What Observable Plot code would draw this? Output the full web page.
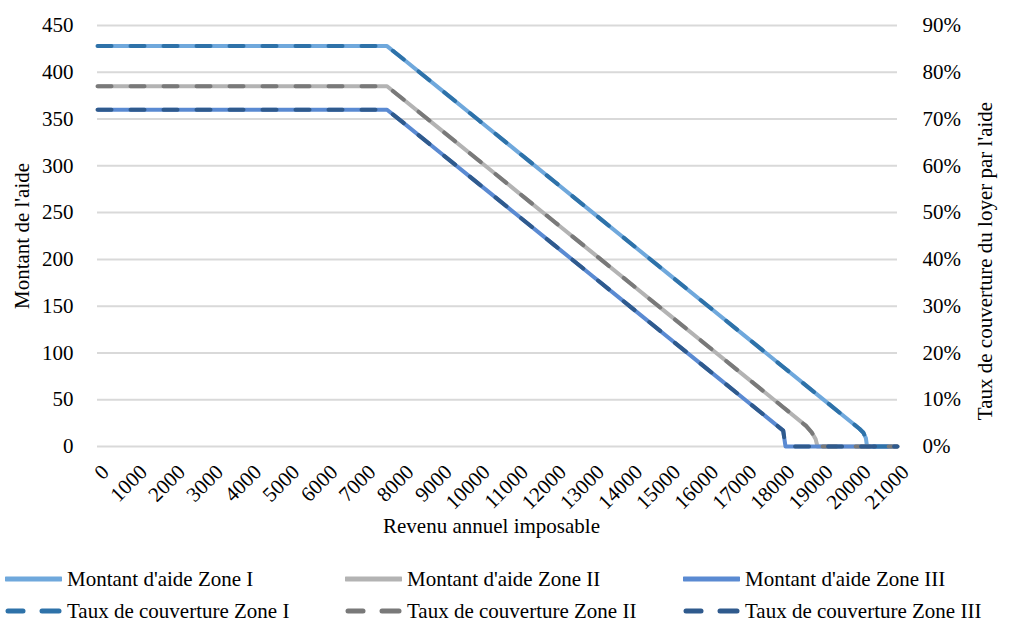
<!DOCTYPE html>
<html><head><meta charset="utf-8">
<script src="https://cdn.jsdelivr.net/npm/d3@7"></script>
<script src="https://cdn.jsdelivr.net/npm/@observablehq/plot@0.6"></script>
<style>
body{margin:0;background:#fff;font-family:"Liberation Serif",serif;}
#wrap{position:relative;width:1011px;height:621px;overflow:hidden}
.leg{position:absolute;display:flex;align-items:center;font-size:21px;color:#000;white-space:nowrap;height:28px}
.leg svg{margin-right:5px}
</style></head><body><div id="wrap"></div>
<script>
// Revenu annuel imposable (x) par zone
const revenusI   = [0,1000,2000,3000,4000,5000,6000,7000,7600,8000,9000,10000,11000,12000,13000,14000,15000,16000,17000,18000,19000,20000,20100,20170,20200,21000];
const revenusII  = [0,1000,2000,3000,4000,5000,6000,7000,7600,8000,9000,10000,11000,12000,13000,14000,15000,16000,17000,18000,18600,18750,18850,18900,21000];
const revenusIII = [0,1000,2000,3000,4000,5000,6000,7000,7600,8000,9000,10000,11000,12000,13000,14000,15000,16000,17000,18000,18060,21000];
// Montant de l'aide par zone
const montantI   = [428,428,428,428,428,428,428,428,428,415,382,349,316,283,250,217,184,151,118,85,52,19,15,9,0,0];
const montantII  = [385,385,385,385,385,385,385,385,385,372,339,306,273,240,207,174,141,108,75,42,22,15,8,0,0];
const montantIII = [360,360,360,360,360,360,360,360,360,347,314,281,248,215,182,149,116,83,50,17,0,0];
// Taux de couverture du loyer par zone
const tauxI   = [0.856,0.856,0.856,0.856,0.856,0.856,0.856,0.856,0.856,0.83,0.764,0.698,0.632,0.566,0.5,0.434,0.368,0.302,0.236,0.17,0.104,0.038,0.03,0.018,0,0];
const tauxII  = [0.77,0.77,0.77,0.77,0.77,0.77,0.77,0.77,0.77,0.744,0.678,0.612,0.546,0.48,0.414,0.348,0.282,0.216,0.15,0.084,0.044,0.03,0.016,0,0];
const tauxIII = [0.72,0.72,0.72,0.72,0.72,0.72,0.72,0.72,0.72,0.694,0.628,0.562,0.496,0.43,0.364,0.298,0.232,0.166,0.1,0.034,0,0];
// Ticks
const xTicks = [0,1000,2000,3000,4000,5000,6000,7000,8000,9000,10000,11000,12000,13000,14000,15000,16000,17000,18000,19000,20000,21000];
const yTicks = [0,50,100,150,200,250,300,350,400,450];
const tauxTicks = [0,0.1,0.2,0.3,0.4,0.5,0.6,0.7,0.8,0.9];
const yMax = 450, tauxMax = 0.9;
const k = yMax / tauxMax;

const series = [
  {name:"Montant d'aide Zone I", x: revenusI, values: montantI, color:"#6FA8DC", dashed:false, secondary:false},
  {name:"Montant d'aide Zone II", x: revenusII, values: montantII, color:"#B3B3B3", dashed:false, secondary:false},
  {name:"Montant d'aide Zone III", x: revenusIII, values: montantIII, color:"#5A8AD2", dashed:false, secondary:false},
  {name:"Taux de couverture Zone I", x: revenusI, values: tauxI, color:"#2E72A9", dashed:true, secondary:true},
  {name:"Taux de couverture Zone II", x: revenusII, values: tauxII, color:"#797979", dashed:true, secondary:true},
  {name:"Taux de couverture Zone III", x: revenusIII, values: tauxIII, color:"#2F5A8D", dashed:true, secondary:true}
];

const lineMarks = series.map(s => {
  const data = s.x.map((r, i) => ({revenu: r, y: s.secondary ? s.values[i] * k : s.values[i]}));
  return Plot.line(data, {
    x: "revenu", y: "y", stroke: s.color, strokeWidth: 4,
    curve: "linear",
    strokeLinecap: s.dashed ? "round" : "butt",
    strokeLinejoin: "round",
    strokeDasharray: s.dashed ? "14,19" : null
  });
});

const chart = Plot.plot({
  width: 1011, height: 560,
  marginLeft: 97, marginRight: 114, marginTop: 25, marginBottom: 114,
  style: {fontFamily: "'Liberation Serif', serif", fontSize: "21px", color: "#000", background: "#fff"},
  x: {domain: [0, 21000]},
  y: {domain: [0, yMax]},
  marks: [
    Plot.ruleY(yTicks, {stroke: "#D9D9D9", strokeWidth: 2}),
    ...lineMarks,
    Plot.axisY(yTicks, {anchor: "left", tickSize: 0, tickPadding: 24, label: null}),
    Plot.axisY(tauxTicks.map(t => t * k), {anchor: "right", tickSize: 0, tickPadding: 25, label: null,
      tickFormat: (d) => Math.round(d / k * 100) + "%"}),
    Plot.axisX(xTicks, {anchor: "bottom", tickSize: 0, tickPadding: 22, tickRotate: -45, label: null, dx: 8,
      tickFormat: (d) => String(d)}),
    Plot.text(["Revenu annuel imposable"], {frameAnchor: "bottom", dy: 86, dx: -6, fontSize: 21}),
    Plot.text(["Montant de l'aide"], {frameAnchor: "left", textAnchor: "middle", dx: -75, rotate: -90, fontSize: 21}),
    Plot.text(["Taux de couverture du loyer par l'aide"], {frameAnchor: "right", textAnchor: "middle", dx: 88, dy: 25, rotate: -90, fontSize: 21})
  ]
});
const wrap = document.getElementById("wrap");
wrap.appendChild(chart);

// Legend
const legPos = [[5,565],[345,565],[683,565],[5,597],[345,597],[683,597]];
series.forEach((s, j) => {
  const div = document.createElement("div");
  div.className = "leg";
  div.style.left = legPos[j][0] + "px";
  div.style.top = legPos[j][1] + "px";
  const line = s.dashed
    ? `<line x1="3" y1="14" x2="18" y2="14" stroke="${s.color}" stroke-width="5" stroke-linecap="round"/><line x1="37" y1="14" x2="54" y2="14" stroke="${s.color}" stroke-width="5" stroke-linecap="round"/>`
    : `<line x1="1" y1="14" x2="56" y2="14" stroke="${s.color}" stroke-width="5" stroke-linecap="round"/>`;
  div.innerHTML = `<svg width="57" height="28">${line}</svg><span>${s.name}</span>`;
  wrap.appendChild(div);
});
</script>
</body></html>
